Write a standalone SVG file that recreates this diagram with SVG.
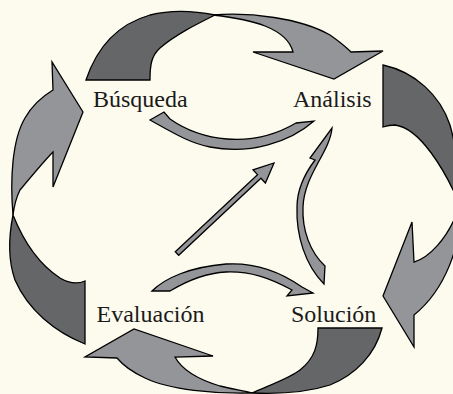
<svg xmlns="http://www.w3.org/2000/svg" width="453" height="394" viewBox="0 0 453 394">
<style>
.bg{fill:#FDFBEE}
.dark{fill:#656668;stroke:#000;stroke-width:1.3;stroke-linejoin:miter}
.light{fill:#949599;stroke:#000;stroke-width:1.3;stroke-linejoin:miter}
.lbl{font-family:"Liberation Serif","Times New Roman",serif;font-size:24px;fill:#1a1a1a}
</style>
<rect class="bg" x="0" y="0" width="453" height="394"/>
<g id="ring">
  <path class="dark" d="M86,80 L150,80 C150,66 151,56 160,48 C175,35 195,25 215,15 C190,10 170,10 150,15 C115,25 96,50 86,80 Z"/>
  <path class="light" d="M213,15 C250,12 300,18 330,35 C340,42 346,47 351,52 L383,51 L334,79 L253,52 L293,52 C290,40 280,32 265,26 C250,20 230,17 213,15 Z"/>
  <path class="dark" d="M383,65 C415,72 440,95 450,125 C457,150 460,180 460,205 C445,170 420,128 395,125 C390,125 386,126 383,127 Z"/>
  <path class="light" d="M460,205 C462,245 445,290 414,315 L414,347 L383,296 L412,222 L414,262 C428,258 448,240 460,205 Z"/>
  <path class="dark" d="M318,328 L382,328 C375,355 355,375 330,385 C305,393 275,394 252,393 C270,385 290,378 300,370 C315,358 318,345 318,328 Z"/>
  <path class="light" d="M252,393 C215,394 170,390 145,378 C130,371 122,364 117,358 L85,357 L134,329 L213,356 L175,357 C182,370 200,380 220,386 C232,389 245,391 252,393 Z"/>
  <path class="dark" d="M85,281 L85,344 C55,332 28,310 15,280 C8,260 9,235 13,215 C25,245 40,265 60,278 C70,284 78,284 85,281 Z"/>
  <path class="light" d="M13,215 C10,180 12,140 25,118 C33,104 43,96 53,90 L52,62 L83,112 L53,187 L53,152 C45,160 30,178 20,190 C16,198 14,207 13,215 Z"/>
</g>
<g id="connectors">
  <path class="light" d="M150,120 L164,112 L170,119 C200,140 250,150 296,123 L314,121 C290,142 250,155 210,147 C190,143 175,134 150,120 Z"/>
  <path class="light" d="M332,128 C330,152 304,175 303,207 C302,230 310,252 325,266 L324,284 C305,265 296,235 297,207 C297,188 306,172 315,160 L310,158 Z"/>
  <path class="light" d="M152,291 C165,278 190,267 226,264 C260,262 285,275 302,287 L313,293 L287,296 L292,290 C270,278 250,271 226,272 C205,273 185,282 170,291 Z"/>
  <path class="light" d="M175.3,251.7 L257.5,174.6 L253,169.8 L274,163 L265.4,183 L260.9,178.2 L178.7,255.3 Z"/>
</g>
<g id="busqueda"><text class="lbl" x="93" y="107">Búsqueda</text></g>
<g id="analisis"><text class="lbl" x="293" y="107">Análisis</text></g>
<g id="evaluacion"><text class="lbl" x="96.5" y="322">Evaluación</text></g>
<g id="solucion"><text class="lbl" x="291" y="322">Solución</text></g>
</svg>
